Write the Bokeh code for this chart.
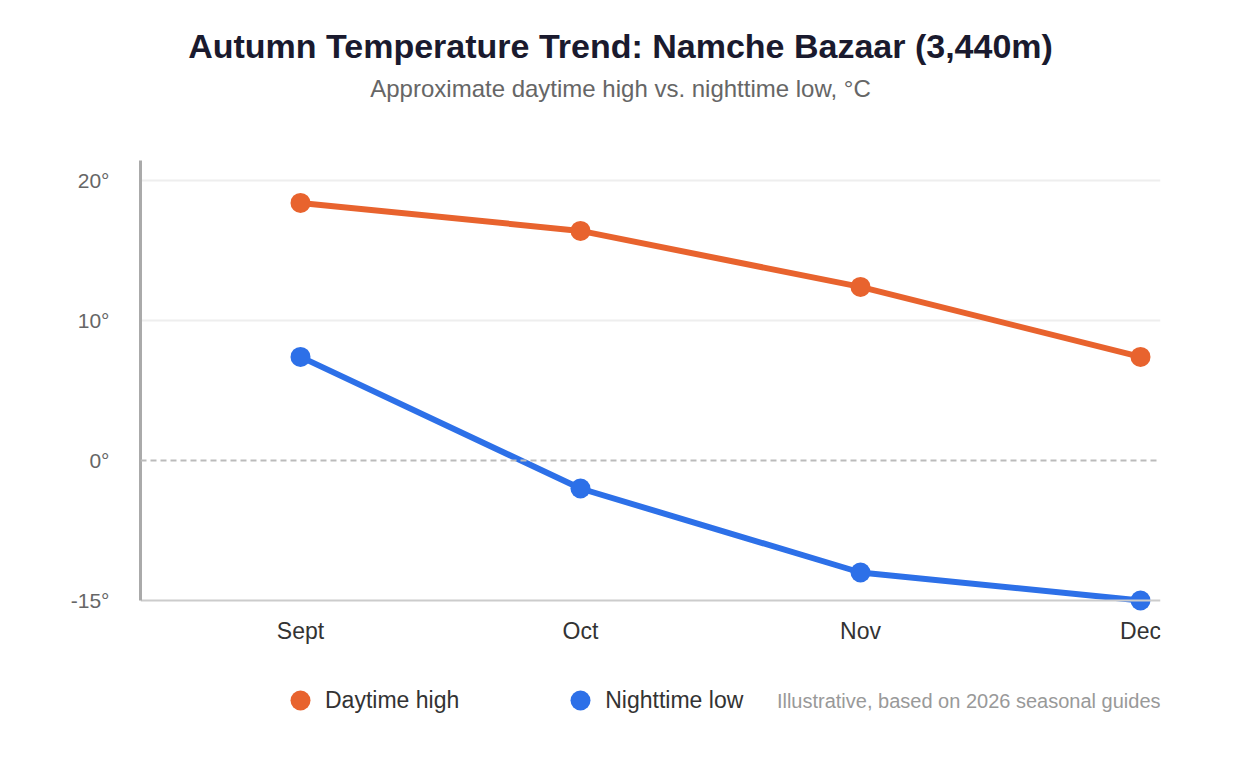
from bokeh.plotting import figure
from bokeh.models import (FixedTicker, Label, Legend, LegendItem, Span, Range1d)
from bokeh.embed import file_html
from bokeh.resources import INLINE

# ---- data ----
months = ["Sept", "Oct", "Nov", "Dec"]
daytime_high = [18.4, 16.4, 12.4, 7.4]
nighttime_low = [7.4, -2.0, -8.0, -10.0]
y_ticks = [20, 10, 0, -10]
y_tick_labels = ["20°", "10°", "0°", "-15°"]

title_text = "Autumn Temperature Trend: Namche Bazaar (3,440m)"
subtitle_text = "Approximate daytime high vs. nighttime low, °C"
note_text = "Illustrative, based on 2026 seasonal guides"

ORANGE = "#E8632E"
BLUE = "#2D70E8"
FONT = "Liberation Sans"

x = list(range(len(months)))

W, H = 1232, 752
p = figure(width=W, height=H, output_backend="svg", toolbar_location=None,
           x_range=Range1d(-0.5714, 3.0714), y_range=Range1d(-20, 32.143),
           min_border_left=140, min_border_right=W - 1160,
           min_border_top=10, min_border_bottom=H - 740)
p.outline_line_color = None
p.background_fill_color = "white"
p.border_fill_color = "white"

# axes
p.xaxis.fixed_location = -10
p.xaxis.ticker = FixedTicker(ticks=x)
p.xaxis.major_label_overrides = {i: m for i, m in zip(x, months)}
p.xaxis.axis_line_color = "#cccccc"
p.xaxis.axis_line_width = 2
p.xaxis.major_tick_line_color = None
p.xaxis.minor_tick_line_color = None
p.xaxis.major_label_text_font = FONT
p.xaxis.major_label_text_font_size = "23px"
p.xaxis.major_label_text_color = "#333333"
p.xaxis.major_label_standoff = 11

p.yaxis.bounds = (-10, 21.43)
p.yaxis.ticker = FixedTicker(ticks=y_ticks)
p.yaxis.major_label_overrides = {t: l for t, l in zip(y_ticks, y_tick_labels)}
p.yaxis.axis_line_color = "#aaaaaa"
p.yaxis.axis_line_width = 3
p.yaxis.major_tick_line_color = None
p.yaxis.minor_tick_line_color = None
p.yaxis.major_label_text_font = FONT
p.yaxis.major_label_text_font_size = "21px"
p.yaxis.major_label_text_color = "#666666"
p.yaxis.major_label_standoff = 25

p.xgrid.grid_line_color = None
p.ygrid.ticker = FixedTicker(ticks=[10, 20])
p.ygrid.grid_line_color = "#eeeeee"
p.ygrid.grid_line_width = 2

zero = Span(location=0, dimension="width", line_color="#bbbbbb",
            line_width=2, line_dash="6 4")
p.add_layout(zero)

# series
p.line(x, daytime_high, line_color=ORANGE, line_width=6)
p.line(x, nighttime_low, line_color=BLUE, line_width=6)
r_day = p.scatter(x, daytime_high, size=20, fill_color=ORANGE, line_color=None)
r_night = p.scatter(x, nighttime_low, size=20, fill_color=BLUE, line_color=None)

legend = Legend(items=[LegendItem(label="Daytime high", renderers=[r_day]),
                       LegendItem(label="Nighttime low", renderers=[r_night])],
                orientation="horizontal", location=(135, 15),
                padding=0, margin=0, spacing=96,
                glyph_width=50, glyph_height=50, label_standoff=0,
                border_line_color=None, background_fill_alpha=0,
                label_text_font=FONT, label_text_font_size="23px",
                label_text_color="#333333")
p.add_layout(legend, "center")

# texts (screen units: from frame left / frame bottom)
p.add_layout(Label(x=480, y=740 - 45, x_units="screen", y_units="screen",
                   text=title_text, text_align="center", text_baseline="middle",
                   text_font=FONT, text_font_size="34px", text_font_style="bold",
                   text_color="#1a1a2e"))
p.add_layout(Label(x=480, y=740 - 88, x_units="screen", y_units="screen",
                   text=subtitle_text, text_align="center", text_baseline="middle",
                   text_font=FONT, text_font_size="24px", text_color="#666666"))
p.add_layout(Label(x=1020, y=740 - 700, x_units="screen", y_units="screen",
                   text=note_text, text_align="right", text_baseline="middle",
                   text_font=FONT, text_font_size="20px", text_color="#999999"))

open("out.html", "w").write(file_html(p, INLINE))
